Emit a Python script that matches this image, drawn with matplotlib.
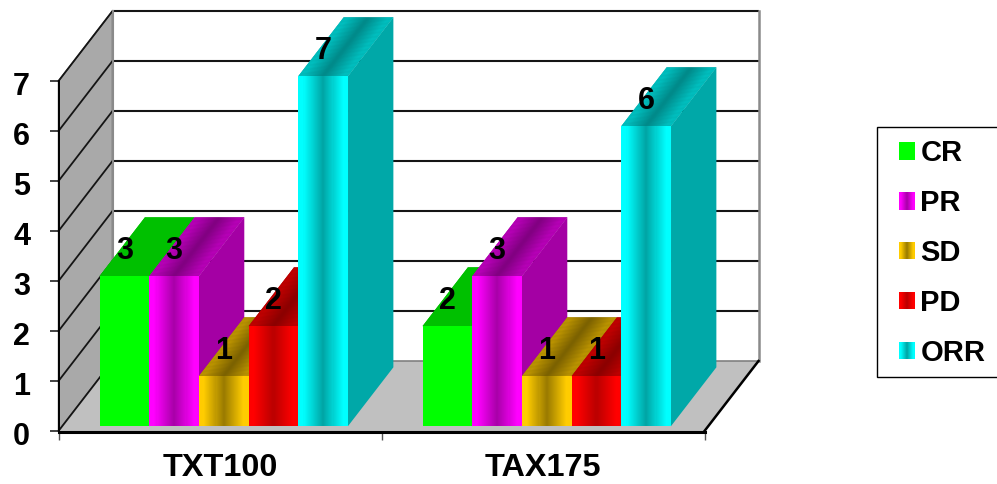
import matplotlib
matplotlib.use("Agg")
import matplotlib.pyplot as plt
import numpy as np
from matplotlib.collections import PolyCollection
from matplotlib.legend_handler import HandlerBase
from matplotlib.patches import Rectangle
from matplotlib.transforms import ScaledTranslation

plt.rcParams["font.family"] = ["Liberation Sans", "DejaVu Sans"]
plt.rcParams["font.weight"] = "bold"

# Chart data
categories = ["TXT100", "TAX175"]
series_names = ["CR", "PR", "SD", "PD", "ORR"]
cr_values = [3, 2]
pr_values = [3, 3]
sd_values = [1, 1]
pd_values = [2, 1]
orr_values = [7, 6]
y_ticks = [0, 1, 2, 3, 4, 5, 6, 7]

# Face colours per series: front edge, front centre, top edge, top centre, side
cr_colors = ("#00ff00", "#00ff00", "#00c000", "#00c000", "#00c000")
pr_colors = ("#ff00ff", "#a800a8", "#c000c0", "#800080", "#a400a4")
sd_colors = ("#ffcc00", "#997a00", "#c69c00", "#7a6000", "#a88600")
pd_colors = ("#ff0000", "#bb0000", "#c80000", "#8a0000", "#a80000")
orr_colors = ("#00ffff", "#00a4a4", "#00c8c8", "#008888", "#00a8a8")

series_values = [cr_values, pr_values, sd_values, pd_values, orr_values]
series_colors = [cr_colors, pr_colors, sd_colors, pd_colors, orr_colors]

# Oblique projection of the chart box, in data units per full unit of depth
DEPTH_X = 54 / 323.0
DEPTH_Y = 1.4
BAR_WIDTH = 1 / 6.5
BAR_DEPTH = 0.84
BAR_OFFSET = 0.07
FONT_SIZE = 22
CATEGORY_FONT_SIZE = 23.3
LEGEND_FONT_SIZE = 21
STRIPS = 48

W, H = 997, 484
fig = plt.figure(figsize=(W / 100, H / 100), dpi=100, facecolor="white")
ax = fig.add_axes([58.5 / W, 1 - 431 / H, 646 / W, 350 / H])
ax.set_xlim(0, 2)
ax.set_ylim(0, 7)
ax.patch.set_visible(False)


def project(x, y, depth):
    return (x + depth * DEPTH_X, y + depth * DEPTH_Y)


def hex_rgb(color):
    return np.array(matplotlib.colors.to_rgb(color))


def ramp(edge, centre, n=STRIPS):
    """Colours across a face: bright at both edges, darkest in the middle."""
    t = np.abs(np.linspace(-1, 1, n))
    t = np.clip(t / 0.82, 0, 1)[:, None]
    return hex_rgb(centre) * (1 - t) + hex_rgb(edge) * t


def add_poly(points, color, zorder, ec=None, lw=0):
    ax.fill(*zip(*points), facecolor=color, edgecolor=ec or color,
            linewidth=lw, zorder=zorder, clip_on=False)


def add_shaded_face(verts, colors, zorder):
    # A solid base under the strips keeps the seams between them closed
    base = [verts[0][0], verts[-1][1], verts[-1][2], verts[0][3]]
    add_poly(base, colors[len(colors) // 2], zorder)
    ax.add_collection(PolyCollection(
        verts, facecolors=colors, edgecolors="none", linewidths=0,
        zorder=zorder + 0.001, clip_on=False), autolim=False)


# Chart box: side wall, floor, back wall lines
corners = {
    "fl": project(0, 0, 0), "fr": project(2, 0, 0),
    "bl": project(0, 0, 1), "br": project(2, 0, 1),
    "tl": project(0, 7, 0), "tb": project(0, 7, 1),
}
add_poly([corners["fl"], corners["tl"], corners["tb"], corners["bl"]],
         "#a9a9a9", 1, ec="#555555", lw=1.0)
add_poly([corners["fl"], corners["fr"], corners["br"], corners["bl"]],
         "#c0c0c0", 1)

for v in y_ticks[1:]:
    ax.plot(*zip(project(0, v, 1), project(2, v, 1)), color="#151515", lw=1.5,
            zorder=1.5, clip_on=False, solid_capstyle="butt")
for v in y_ticks:
    ax.plot(*zip(project(0, v, 0), project(0, v, 1)), color="#151515", lw=1.3,
            zorder=1.5, clip_on=False)
ax.plot(*zip(project(0, 0, 1), project(0, 7, 1)), color="#8a8a8a", lw=1.5, zorder=1.5, clip_on=False)
ax.plot(*zip(project(2, 0, 1), project(2, 7, 1)), color="#8a8a8a", lw=1.8, zorder=1.5, clip_on=False)
ax.plot(*zip(project(0, 0, 1), project(2, 0, 1)), color="#808080", lw=1.2, zorder=1.5, clip_on=False)
ax.plot(*zip(project(2, 0, 0), project(2, 0, 1)), color="black", lw=1.8, zorder=1.6, clip_on=False)

# Bars, painted left to right so that each one overlaps its left neighbour
z = 2.0
for cat in range(len(categories)):
    start = cat + (1 - BAR_WIDTH * len(series_names)) / 2
    for s, (values, colors) in enumerate(zip(series_values, series_colors)):
        value = values[cat]
        x0 = start + s * BAR_WIDTH
        x1 = x0 + BAR_WIDTH
        front_edge, front_mid, top_edge, top_mid, side = colors
        d0, d1 = BAR_OFFSET, BAR_OFFSET + BAR_DEPTH
        add_poly([project(x1, 0, d0), project(x1, value, d0),
                  project(x1, value, d1), project(x1, 0, d1)], side, z)
        xs = np.linspace(x0, x1, STRIPS + 1)
        front = [[project(a, 0, d0), project(b, 0, d0),
                  project(b, value, d0), project(a, value, d0)]
                 for a, b in zip(xs[:-1], xs[1:])]
        top = [[project(a, value, d0), project(b, value, d0),
                project(b, value, d1), project(a, value, d1)]
               for a, b in zip(xs[:-1], xs[1:])]
        add_shaded_face(top, ramp(top_edge, top_mid), z + 0.01)
        add_shaded_face(front, ramp(front_edge, front_mid), z + 0.02)
        z += 0.05

# Value labels sit over the top face of each bar
for cat in range(len(categories)):
    start = cat + (1 - BAR_WIDTH * len(series_names)) / 2
    for s, values in enumerate(series_values):
        xc, yc = project(start + (s + 0.5) * BAR_WIDTH, values[cat], BAR_OFFSET)
        ax.text(xc, yc + 0.58, str(values[cat]), ha="center", va="center_baseline",
                fontsize=FONT_SIZE, color="black", zorder=6, clip_on=False)

# Axes
for name in ("top", "right"):
    ax.spines[name].set_visible(False)
ax.spines["left"].set_linewidth(1.4)
ax.spines["bottom"].set_linewidth(2.2)
ax.spines["bottom"].set_position(("outward", 1.0))
ax.spines["left"].set_zorder(1.7)
ax.spines["bottom"].set_zorder(1.7)
ax.set_yticks(y_ticks)
ax.set_yticklabels([str(v) for v in y_ticks], fontsize=FONT_SIZE)
ax.tick_params(axis="y", length=6.5, width=1.2, pad=14, color="#222222")
label_shift = ScaledTranslation(0, -1.5 / 72, fig.dpi_scale_trans)
for label in ax.get_yticklabels():
    label.set_transform(label.get_transform() + label_shift)
ax.set_xticks([0, 1, 2])
ax.set_xticklabels([])
ax.tick_params(axis="x", length=5.5, width=1.0, color="#555555")
ax.set_xticks([0.5, 1.5], minor=True)
ax.set_xticklabels(categories, minor=True, fontsize=CATEGORY_FONT_SIZE)
ax.tick_params(axis="x", which="minor", length=0, pad=15)


class Swatch:
    def __init__(self, edge, centre):
        self.edge = edge
        self.centre = centre


class SwatchHandler(HandlerBase):
    def create_artists(self, legend, orig, xd, yd, width, height, fontsize, trans):
        n = 16
        colors = ramp(orig.edge, orig.centre, n)
        return [Rectangle((-xd + i * width / n, -yd), width / n + 0.3, height,
                          facecolor=colors[i], edgecolor="none", transform=trans)
                for i in range(n)]


# Legend panel runs off the right edge of the figure
fig.patches.append(Rectangle((877 / W, 1 - 377 / H), 140 / W, 250 / H, facecolor="white",
                             edgecolor="black", linewidth=1.0, transform=fig.transFigure,
                             figure=fig))
handles = [Swatch(c[0], c[1]) for c in series_colors]
legend = fig.legend(
    handles, series_names,
    handler_map={Swatch: SwatchHandler()},
    loc="center left",
    bbox_to_anchor=(898.5 / W, 1 - 253 / H),
    fontsize=LEGEND_FONT_SIZE, frameon=False, borderpad=0, borderaxespad=0,
    handlelength=0.55, handleheight=0.55, handletextpad=0.2, labelspacing=0.75,
)

fig.savefig("out.png", dpi=100)
